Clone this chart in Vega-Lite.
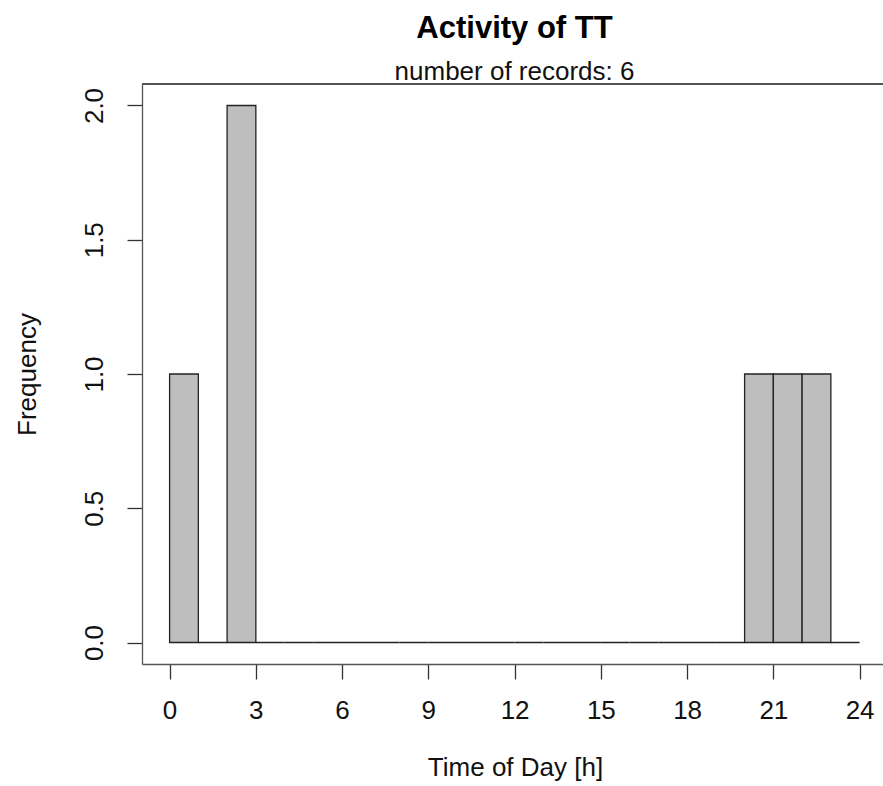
{
  "$schema": "https://vega.github.io/schema/vega-lite/v6.json",
  "width": 741,
  "height": 580,
  "autosize": "none",
  "padding": {"left": 142, "top": 84, "right": 0, "bottom": 122},
  "background": "white",
  "config": {
    "view": {"stroke": null},
    "font": "Liberation Sans"
  },
  "title": {
    "text": "Activity of TT",
    "subtitle": "number of records: 6",
    "font": "Liberation Sans",
    "fontSize": 31,
    "fontWeight": "bold",
    "color": "black",
    "subtitleFont": "Liberation Sans",
    "subtitleFontSize": 26,
    "subtitleColor": "#111",
    "subtitlePadding": 14,
    "offset": -3,
    "dx": 2,
    "anchor": "middle"
  },
  "data": {
    "values": [
      {"start": 0, "end": 1, "count": 1},
      {"start": 1, "end": 2, "count": 0},
      {"start": 2, "end": 3, "count": 2},
      {"start": 3, "end": 4, "count": 0},
      {"start": 4, "end": 5, "count": 0},
      {"start": 5, "end": 6, "count": 0},
      {"start": 6, "end": 7, "count": 0},
      {"start": 7, "end": 8, "count": 0},
      {"start": 8, "end": 9, "count": 0},
      {"start": 9, "end": 10, "count": 0},
      {"start": 10, "end": 11, "count": 0},
      {"start": 11, "end": 12, "count": 0},
      {"start": 12, "end": 13, "count": 0},
      {"start": 13, "end": 14, "count": 0},
      {"start": 14, "end": 15, "count": 0},
      {"start": 15, "end": 16, "count": 0},
      {"start": 16, "end": 17, "count": 0},
      {"start": 17, "end": 18, "count": 0},
      {"start": 18, "end": 19, "count": 0},
      {"start": 19, "end": 20, "count": 0},
      {"start": 20, "end": 21, "count": 1},
      {"start": 21, "end": 22, "count": 1},
      {"start": 22, "end": 23, "count": 1},
      {"start": 23, "end": 24, "count": 0}
    ]
  },
  "layer": [
    {
      "mark": {"type": "rect", "fill": "#bebebe", "stroke": "#222", "strokeWidth": 1.3},
      "encoding": {
        "x": {
          "field": "start",
          "type": "quantitative",
          "scale": {"domain": [-0.96, 24.814], "nice": false, "zero": false},
          "axis": {
            "values": [0, 3, 6, 9, 12, 15, 18, 21, 24],
            "title": "Time of Day [h]",
            "titleFont": "Liberation Sans",
            "titleFontSize": 26,
            "titleFontWeight": "normal",
            "titleColor": "#111",
            "titleX": 373,
            "titleY": 111,
            "titleBaseline": "alphabetic",
            "titleAlign": "center",
            "labelFont": "Liberation Sans",
            "labelFontSize": 26,
            "labelColor": "#111",
            "labelPadding": 18,
            "labelFlush": false,
            "labelOverlap": false,
            "tickSize": 15,
            "tickColor": "#333",
            "tickWidth": 1.3,
            "domainColor": "#555",
            "domainWidth": 1.3,
            "grid": false
          }
        },
        "x2": {"field": "end"},
        "y": {
          "field": "count",
          "type": "quantitative",
          "scale": {"domain": [-0.08, 2.08], "nice": false, "zero": false},
          "axis": {
            "values": [0, 0.5, 1, 1.5, 2],
            "format": ".1f",
            "title": "Frequency",
            "titleFont": "Liberation Sans",
            "titleFontSize": 26,
            "titleFontWeight": "normal",
            "titleColor": "#111",
            "titleAngle": -90,
            "titleX": -107,
            "titleY": 290,
            "titleBaseline": "alphabetic",
            "titleAlign": "center",
            "labelFont": "Liberation Sans",
            "labelFontSize": 26,
            "labelColor": "#111",
            "labelAngle": -90,
            "labelAlign": "center",
            "labelBaseline": "bottom",
            "labelPadding": 20,
            "labelFlush": false,
            "labelOverlap": false,
            "tickSize": 15,
            "tickColor": "#333",
            "tickWidth": 1.3,
            "domainColor": "#555",
            "domainWidth": 1.3,
            "grid": false
          }
        },
        "y2": {"datum": 0}
      }
    },
    {
      "mark": {"type": "rule", "color": "#555", "strokeWidth": 1.3},
      "encoding": {
        "y": {"datum": 2.08, "type": "quantitative"}
      }
    }
  ]
}
